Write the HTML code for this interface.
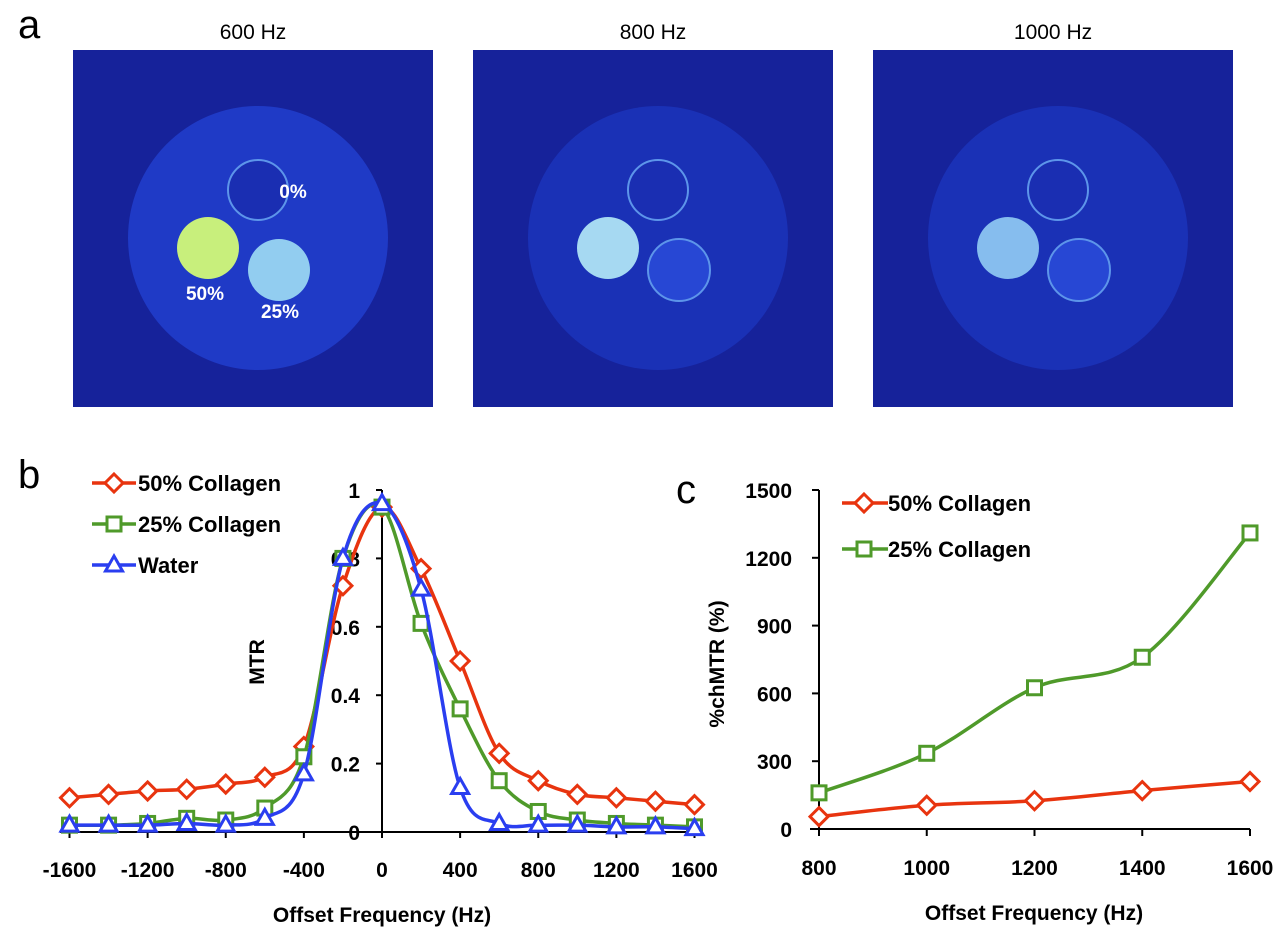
<!DOCTYPE html>
<html><head><meta charset="utf-8"><style>
html,body{margin:0;padding:0;background:#fff;}
svg{display:block;font-family:"Liberation Sans",sans-serif;}
</style></head><body>
<svg width="1284" height="937" viewBox="0 0 1284 937" xmlns="http://www.w3.org/2000/svg">
<text x="18" y="38" font-size="40">a</text>
<g id="imgs"></g>
<text x="18" y="488" font-size="40">b</text>
<text x="676" y="503" font-size="40">c</text>
<g id="chartB"></g>
<g id="chartC"></g>
</svg>
<script>
const freqB = [-1600,-1400,-1200,-1000,-800,-600,-400,-200,0,200,400,600,800,1000,1200,1400,1600];
const mtr50 = [0.10,0.11,0.12,0.125,0.14,0.16,0.25,0.72,0.95,0.77,0.50,0.23,0.15,0.11,0.10,0.09,0.08];
const mtr25 = [0.02,0.02,0.025,0.04,0.035,0.07,0.22,0.80,0.95,0.61,0.36,0.15,0.06,0.035,0.025,0.02,0.015];
const mtrWater = [0.02,0.02,0.02,0.025,0.02,0.04,0.17,0.80,0.96,0.71,0.13,0.025,0.02,0.02,0.015,0.015,0.01];
const xTicksB = [-1600,-1200,-800,-400,0,400,800,1200,1600];
const yTicksB = [0,0.2,0.4,0.6,0.8,1];
const freqC = [800,1000,1200,1400,1600];
const ch50 = [55,105,125,170,210];
const ch25 = [160,335,625,760,1310];
const yTicksC = [0,300,600,900,1200,1500];
const panelTitles = ["600 Hz","800 Hz","1000 Hz"];

const NS="http://www.w3.org/2000/svg";
function mk(parent,tag,attrs){const e=document.createElementNS(NS,tag);for(const k in attrs)e.setAttribute(k,attrs[k]);parent.appendChild(e);return e;}
function smooth(pts){let d=`M${pts[0][0]},${pts[0][1]}`;for(let i=0;i<pts.length-1;i++){const p0=pts[Math.max(0,i-1)],p1=pts[i],p2=pts[i+1],p3=pts[Math.min(pts.length-1,i+2)];const t=1/6;d+=` C${p1[0]+(p2[0]-p0[0])*t},${p1[1]+(p2[1]-p0[1])*t} ${p2[0]-(p3[0]-p1[0])*t},${p2[1]-(p3[1]-p1[1])*t} ${p2[0]},${p2[1]}`;}return d;}
function marker(g,type,x,y,col){
 let e;
 if(type==='d'){e=mk(g,'polygon',{points:`${x},${y-9} ${x+9},${y} ${x},${y+9} ${x-9},${y}`,fill:'#fff',stroke:col,'stroke-width':3});}
 else if(type==='s'){e=mk(g,'rect',{x:x-7,y:y-7,width:14,height:14,fill:'#fff',stroke:col,'stroke-width':3});}
 else {e=mk(g,'polygon',{points:`${x},${y-9} ${x+8.5},${y+6} ${x-8.5},${y+6}`,fill:'#fff',stroke:col,'stroke-width':3});}
 return e;
}

// images
const imgs=document.getElementById('imgs');
const panelX=[73,473,873];
const c50=['#c8ef7c','#a6d9f2','#86bdee'];
const c25=['#92cdf0','#2747d4','#2747d4'];
const phantom=['#1f3ac6','#1a31b6','#1a31b6'];
panelX.forEach((px,i)=>{
 const t=mk(imgs,'text',{x:px+180,y:39,'font-size':21,'text-anchor':'middle'});t.textContent=panelTitles[i];
 
 
 const r=mk(imgs,'rect',{x:px,y:50,width:360,height:357,fill:'#16229a'});
 
 
 mk(imgs,'ellipse',{cx:px+185,cy:238,rx:130,ry:132,fill:phantom[i]});
 mk(imgs,'circle',{cx:px+185,cy:190,r:30,fill:'#1a2eb2',stroke:'#5d95ea','stroke-width':2});
 mk(imgs,'circle',{cx:px+135,cy:248,r:31,fill:c50[i]});
 mk(imgs,'circle',{cx:px+206,cy:270,r:31,fill:c25[i],stroke:'#5d95ea','stroke-width':i?2:0});
});
[["0%",293,198],["50%",205,300],["25%",280,318]].forEach(a=>{const t=mk(imgs,'text',{x:a[1],y:a[2],'font-size':19,fill:'#fff','text-anchor':'middle','font-weight':'bold'});t.textContent=a[0];
 
 });

// chart B
const gB=document.getElementById('chartB');
const xB=v=>382+v*(693-68)/3200;
const yB=v=>832-v*342;
mk(gB,'line',{x1:60,y1:832,x2:700,y2:832,stroke:'#000','stroke-width':2});
mk(gB,'line',{x1:382,y1:832,x2:382,y2:490,stroke:'#000','stroke-width':2});
xTicksB.forEach(v=>{mk(gB,'line',{x1:xB(v),y1:832,x2:xB(v),y2:838,stroke:'#000','stroke-width':2});
 const t=mk(gB,'text',{x:xB(v),y:877,'font-size':21,'font-weight':'bold','text-anchor':'middle'});t.textContent=v;
 
 });
yTicksB.forEach(v=>{mk(gB,'line',{x1:376,y1:yB(v),x2:382,y2:yB(v),stroke:'#000','stroke-width':2});
 const t=mk(gB,'text',{x:360,y:yB(v)+8,'font-size':21,'font-weight':'bold','text-anchor':'end'});t.textContent=v;
 
 });
let tt=mk(gB,'text',{x:382,y:922,'font-size':21,'font-weight':'bold','text-anchor':'middle'});tt.textContent='Offset Frequency (Hz)';


tt=mk(gB,'text',{x:0,y:0,'font-size':21,'font-weight':'bold','text-anchor':'middle',transform:'translate(264,662) rotate(-90)'});tt.textContent='MTR';


const seriesB=[[mtr50,'#e8340f','d','50% Collagen'],[mtr25,'#4f9a2a','s','25% Collagen'],[mtrWater,'#2a3ef0','t','Water']];
seriesB.forEach((s,si)=>{
 const g=mk(gB,'g',{});
 
 
 const pts=freqB.map((f,i)=>[xB(f),yB(s[0][i])]);
 mk(g,'path',{d:smooth(pts),fill:'none',stroke:s[1],'stroke-width':3.5});
 pts.forEach(p=>{const m=marker(g,s[2],p[0],p[1],s[1]);
  
  });
 const ly=483+si*41;
 const lg=mk(gB,'g',{});
 
 
 mk(lg,'line',{x1:92,y1:ly,x2:136,y2:ly,stroke:s[1],'stroke-width':3.5});
 marker(lg,s[2],114,ly,s[1]);
 const t=mk(lg,'text',{x:138,y:ly+8,'font-size':22,'font-weight':'bold'});t.textContent=s[3];
});

// chart C
const gC=document.getElementById('chartC');
const xC=v=>819+(v-800)*(1250-819)/800;
const yC=v=>829-v*(829-490)/1500;
mk(gC,'line',{x1:810,y1:829,x2:1250,y2:829,stroke:'#000','stroke-width':2});
mk(gC,'line',{x1:819,y1:829,x2:819,y2:490,stroke:'#000','stroke-width':2});
freqC.forEach(v=>{mk(gC,'line',{x1:xC(v),y1:829,x2:xC(v),y2:836,stroke:'#000','stroke-width':2});
 const t=mk(gC,'text',{x:xC(v),y:875,'font-size':21,'font-weight':'bold','text-anchor':'middle'});t.textContent=v;
 
 });
yTicksC.forEach(v=>{mk(gC,'line',{x1:812,y1:yC(v),x2:819,y2:yC(v),stroke:'#000','stroke-width':2});
 const t=mk(gC,'text',{x:792,y:yC(v)+8,'font-size':21,'font-weight':'bold','text-anchor':'end'});t.textContent=v;
 
 });
tt=mk(gC,'text',{x:1034,y:920,'font-size':21,'font-weight':'bold','text-anchor':'middle'});tt.textContent='Offset Frequency (Hz)';


tt=mk(gC,'text',{x:0,y:0,'font-size':21,'font-weight':'bold','text-anchor':'middle',transform:'translate(724,664) rotate(-90)'});tt.textContent='%chMTR (%)';


const seriesC=[[ch50,'#e8340f','d','50% Collagen'],[ch25,'#4f9a2a','s','25% Collagen']];
seriesC.forEach((s,si)=>{
 const g=mk(gC,'g',{});
 
 
 const pts=freqC.map((f,i)=>[xC(f),yC(s[0][i])]);
 mk(g,'path',{d:smooth(pts),fill:'none',stroke:s[1],'stroke-width':3.5});
 pts.forEach(p=>{const m=marker(g,s[2],p[0],p[1],s[1]);
  
  });
 const ly=503+si*46;
 const lg=mk(gC,'g',{});
 
 
 mk(lg,'line',{x1:842,y1:ly,x2:888,y2:ly,stroke:s[1],'stroke-width':3.5});
 marker(lg,s[2],864,ly,s[1]);
 const t=mk(lg,'text',{x:888,y:ly+8,'font-size':22,'font-weight':'bold'});t.textContent=s[3];
});
</script>
</body></html>
